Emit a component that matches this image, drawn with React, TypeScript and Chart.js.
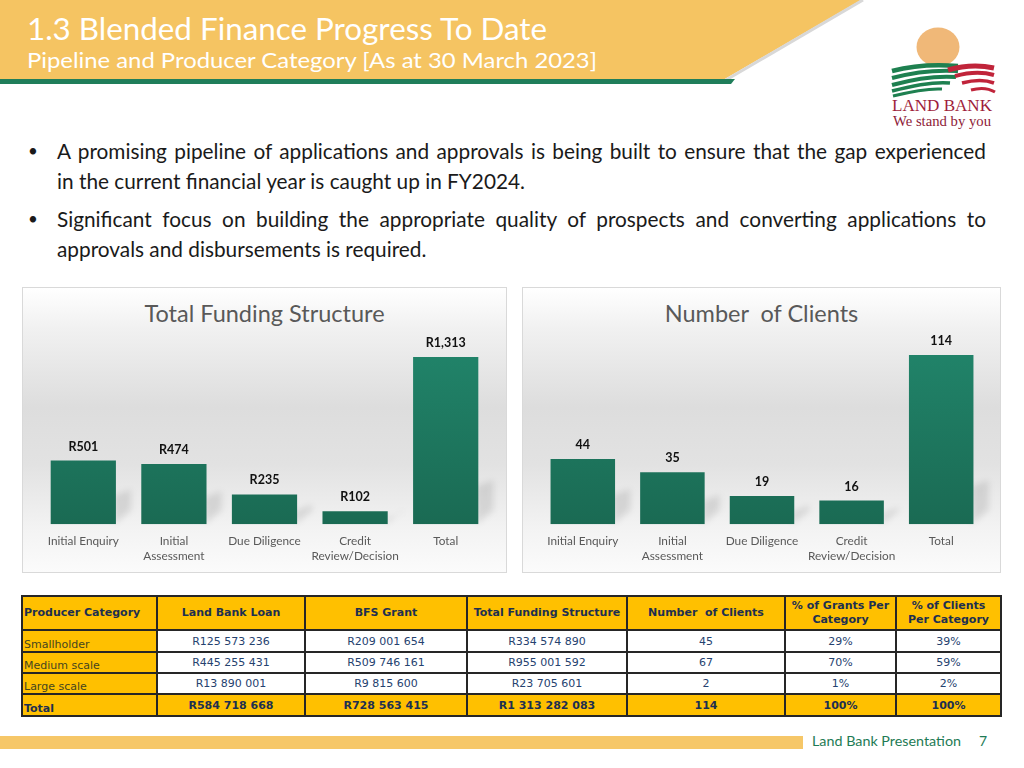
import React, { useEffect, useRef } from 'react';
import { Chart, registerables } from 'chart.js';

Chart.register(...registerables);

// ---------- data ----------
const stageLabels: string[][] = [
  ['Initial Enquiry'],
  ['Initial', 'Assessment'],
  ['Due Diligence'],
  ['Credit', 'Review/Decision'],
  ['Total'],
];
const fundingValues = [501, 474, 235, 102, 1313];
const clientValues = [44, 35, 19, 16, 114];
const fundingAxisMax = 1400;
const clientAxisMax = 120;

const tableHeaders: string[][] = [
  ['Producer Category'],
  ['Land Bank Loan'],
  ['BFS Grant'],
  ['Total Funding Structure'],
  ['Number  of Clients'],
  ['% of Grants Per', 'Category'],
  ['% of Clients', 'Per Category'],
];
const producerCategories = ['Smallholder', 'Medium scale', 'Large scale'];
const landBankLoan = ['R125 573 236', 'R445 255 431', 'R13 890 001'];
const bfsGrant = ['R209 001 654', 'R509 746 161', 'R9 815 600'];
const totalFunding = ['R334 574 890', 'R955 001 592', 'R23 705 601'];
const numberOfClients = ['45', '67', '2'];
const pctGrants = ['29%', '70%', '1%'];
const pctClients = ['39%', '59%', '2%'];
const totalRow = ['Total', 'R584 718 668', 'R728 563 415', 'R1 313 282 083', '114', '100%', '100%'];

// ---------- plugins ----------
const barShadowPlugin = {
  id: 'barShadow',
  beforeDatasetsDraw(chart: any) {
    const { ctx } = chart;
    const meta = chart.getDatasetMeta(0);
    ctx.save();
    ctx.filter = 'blur(3px)';
    ctx.fillStyle = 'rgba(0,0,0,0.10)';
    meta.data.forEach((bar: any) => {
      const right = bar.x + bar.width / 2;
      const bottom = bar.base;
      const h = bottom - bar.y;
      const s = Math.min(38, h * 0.45);
      ctx.beginPath();
      ctx.moveTo(right - 2, bottom);
      ctx.lineTo(right - 2, bottom - s);
      ctx.lineTo(right + 15, bottom - s - 6);
      ctx.lineTo(right + 15, bottom - 14);
      ctx.closePath();
      ctx.fill();
    });
    ctx.restore();
  },
};

const valueLabelPlugin = {
  id: 'valueLabels',
  afterDatasetsDraw(chart: any, _args: any, opts: any) {
    const { ctx } = chart;
    const meta = chart.getDatasetMeta(0);
    const texts: string[] = opts.texts || [];
    ctx.save();
    ctx.font = 'bold 12.5px Lato';
    ctx.fillStyle = '#111111';
    ctx.textAlign = 'center';
    ctx.textBaseline = 'middle';
    meta.data.forEach((bar: any, i: number) => {
      ctx.fillText(texts[i], bar.x, bar.y - 14);
    });
    ctx.restore();
  },
};

type BarBoxProps = {
  left: number;
  top: number;
  width: number;
  height: number;
  title: string;
  values: number[];
  axisMax: number;
  texts: string[];
  padLeft: number;
  padRight: number;
};

function BarBox(p: BarBoxProps) {
  const ref = useRef<HTMLCanvasElement | null>(null);
  useEffect(() => {
    if (!ref.current) return;
    const chart = new Chart(ref.current, {
      type: 'bar',
      data: {
        labels: stageLabels,
        datasets: [
          {
            data: p.values,
            backgroundColor: (c: any) => {
              const area = c.chart.chartArea;
              if (!area) return '#1E7A5E';
              const g = c.chart.ctx.createLinearGradient(0, area.top, 0, area.bottom);
              g.addColorStop(0, '#21846A');
              g.addColorStop(1, '#1A6A53');
              return g;
            },
            borderWidth: 0,
            barPercentage: 0.9,
            categoryPercentage: 0.8,
          },
        ],
      },
      options: {
        animation: false,
        responsive: false,
        devicePixelRatio: 1,
        layout: { padding: { top: 59, bottom: 0, left: p.padLeft, right: p.padRight } },
        plugins: {
          legend: { display: false },
          title: { display: false },
          tooltip: { enabled: false },
          valueLabels: { texts: p.texts },
        } as any,
        scales: {
          x: {
            grid: { display: false, drawTicks: false },
            border: { display: false },
            ticks: {
              padding: 9,
              color: '#595959',
              font: { family: 'Lato', size: 11.8, lineHeight: 1.3 },
              maxRotation: 0,
              autoSkip: false,
            },
          },
          y: { display: false, min: 0, max: p.axisMax },
        },
      },
      plugins: [barShadowPlugin, valueLabelPlugin],
    });
    return () => chart.destroy();
  }, []);

  return (
    <div
      style={{
        position: 'absolute',
        left: p.left,
        top: p.top,
        width: p.width,
        height: p.height,
        boxSizing: 'border-box',
        border: '1px solid #d9d9d9',
        background:
          'linear-gradient(180deg, #ffffff 0%, #f1f1f1 14%, #dddddd 42%, #e2e2e2 62%, #f3f3f3 85%, #fbfbfb 100%)',
      }}
    >
      <div
        style={{
          position: 'absolute',
          left: 0,
          top: 11,
          width: '100%',
          textAlign: 'center',
          fontFamily: 'Lato',
          fontSize: 23.5,
          color: '#595959',
          whiteSpace: 'pre',
        }}
      >
        {p.title}
      </div>
      <canvas
        ref={ref}
        width={p.width}
        height={p.height}
        style={{ position: 'absolute', left: -1, top: -1, width: p.width, height: p.height }}
      />
    </div>
  );
}

// ---------- table ----------
const colX = [22, 157, 305, 467, 627, 785, 896, 1001];
const rowY = [596, 630, 652, 673, 694, 716];

function DataTable() {
  const rows: string[][] = producerCategories.map((c, i) => [
    c,
    landBankLoan[i],
    bfsGrant[i],
    totalFunding[i],
    numberOfClients[i],
    pctGrants[i],
    pctClients[i],
  ]);
  const cells: React.ReactNode[] = [];
  const navy = '#1D2F50';
  const blue = '#25426F';
  const cellBox = (ci: number, ri: number) => ({
    position: 'absolute' as const,
    left: colX[ci] + 1 - colX[0],
    top: rowY[ri] + 1 - rowY[0],
    width: colX[ci + 1] - colX[ci] - 2,
    height: rowY[ri + 1] - rowY[ri] - 2,
    display: 'flex',
    boxSizing: 'border-box' as const,
  });
  tableHeaders.forEach((h, ci) => {
    cells.push(
      <div
        key={'h' + ci}
        style={{
          ...cellBox(ci, 0),
          background: '#FFC000',
          alignItems: 'center',
          justifyContent: 'center',
          paddingLeft: ci === 0 ? 1 : 0,
          fontWeight: 'bold',
          color: navy,
          fontSize: 11,
          lineHeight: '14px',
          whiteSpace: 'pre',
        }}
      >
        <div style={{ width: '100%', textAlign: ci === 0 ? 'left' : 'center' }}>
          {h.map((line, li) => (
            <div key={li}>{line}</div>
          ))}
        </div>
      </div>
    );
  });
  rows.forEach((r, ri) => {
    r.forEach((v, ci) => {
      const isLabel = ci === 0;
      cells.push(
        <div
          key={'r' + ri + '-' + ci}
          style={{
            ...cellBox(ci, ri + 1),
            background: isLabel ? '#FFC000' : '#ffffff',
            alignItems: isLabel ? 'flex-end' : 'center',
            justifyContent: isLabel ? 'flex-start' : 'center',
            paddingLeft: isLabel ? 1 : 0,
            color: isLabel ? '#46451F' : blue,
            fontSize: 11,
            lineHeight: '13px',
            whiteSpace: 'pre',
          }}
        >
          {v}
        </div>
      );
    });
  });
  totalRow.forEach((v, ci) => {
    cells.push(
      <div
        key={'t' + ci}
        style={{
          ...cellBox(ci, 4),
          background: '#FFC000',
          alignItems: ci === 0 ? 'flex-end' : 'center',
          justifyContent: ci === 0 ? 'flex-start' : 'center',
          paddingLeft: ci === 0 ? 1 : 0,
          fontWeight: 'bold',
          color: navy,
          fontSize: 11,
          lineHeight: '13px',
          whiteSpace: 'pre',
        }}
      >
        {v}
      </div>
    );
  });
  return (
    <div
      style={{
        position: 'absolute',
        left: colX[0] - 1,
        top: rowY[0] - 1,
        width: colX[7] - colX[0] + 2,
        height: rowY[5] - rowY[0] + 2,
        background: '#262626',
        fontFamily: '"DejaVu Sans", Verdana, sans-serif',
      }}
    >
      <div style={{ position: 'absolute', left: 1, top: 1 }}>{cells}</div>
    </div>
  );
}

// ---------- slide ----------
function Header() {
  return (
    <svg
      width={1024}
      height={135}
      style={{ position: 'absolute', left: 0, top: 0 }}
      viewBox="0 0 1024 135"
    >
      <polygon points="0,0 861,0 723,80 0,80" fill="#F5C462" />
      <line x1={863} y1={0} x2={726} y2={80} stroke="#d8d8d8" strokeWidth={3} />
      <polygon points="0,79 735,79 731,84 0,84" fill="#1F7E5A" />
      <text
        x={27}
        y={40}
        fontFamily="Lato"
        fontSize={31}
        fill="#ffffff"
        textLength={520}
        lengthAdjust="spacingAndGlyphs"
      >
        1.3 Blended Finance Progress To Date
      </text>
      <text
        x={27}
        y={68}
        fontFamily="Lato"
        fontSize={21}
        fill="#ffffff"
        textLength={570}
        lengthAdjust="spacingAndGlyphs"
      >
        Pipeline and Producer Category [As at 30 March 2023]
      </text>
      {/* logo */}
      <ellipse cx={938} cy={47} rx={21.5} ry={19.5} fill="#F0B878" />
      <g fill="none" stroke="#1E8050" strokeLinecap="butt">
        <path d="M892,71 Q922,63 958,66" strokeWidth={4.5} />
        <path d="M892,78 Q925,69 958,71" strokeWidth={4} />
        <path d="M892,85 Q928,75 956,77" strokeWidth={4} />
        <path d="M892,91 Q930,81 950,83" strokeWidth={3.5} />
        <path d="M893,96 Q925,88 942,89" strokeWidth={3} />
      </g>
      <g fill="none" stroke="#C0243A" strokeLinecap="butt">
        <path d="M948,70 Q972,63 994,68" strokeWidth={5} />
        <path d="M955,76 Q977,70 994,75" strokeWidth={4} />
        <path d="M962,83 Q981,78 994,83" strokeWidth={3.5} />
        <path d="M971,90 Q985,86 995,92" strokeWidth={3} />
      </g>
      <text
        x={892}
        y={111}
        fontFamily="Liberation Serif"
        fontSize={16}
        fill="#9E1D3B"
        textLength={100}
        lengthAdjust="spacingAndGlyphs"
      >
        LAND BANK
      </text>
      <text
        x={893}
        y={126}
        fontFamily="Liberation Serif"
        fontSize={15}
        fill="#8E1B38"
        textLength={98}
        lengthAdjust="spacingAndGlyphs"
      >
        We stand by you
      </text>
    </svg>
  );
}

function Bullets() {
  const fs = 20.8;
  const lineStyle: React.CSSProperties = {
    position: 'absolute',
    left: 57,
    width: 929,
    fontFamily: 'Lato',
    fontSize: fs,
    lineHeight: '30px',
    color: '#1a1a1a',
    whiteSpace: 'nowrap',
  };
  const just: React.CSSProperties = {
    ...lineStyle,
    whiteSpace: 'normal',
    textAlign: 'justify',
    textAlignLast: 'justify',
  };
  const bullet: React.CSSProperties = {
    position: 'absolute',
    left: 28,
    fontFamily: 'Lato',
    fontSize: 17,
    lineHeight: '30px',
    color: '#1a1a1a',
  };
  return (
    <>
      <div style={{ ...bullet, top: 136 }}>•</div>
      <div style={{ ...just, top: 136 }}>
        A promising pipeline of applications and approvals is being built to ensure that the gap experienced
      </div>
      <div style={{ ...lineStyle, top: 166 }}>in the current financial year is caught up in FY2024.</div>
      <div style={{ ...bullet, top: 204 }}>•</div>
      <div style={{ ...just, top: 204 }}>
        Significant focus on building the appropriate quality of prospects and converting applications to
      </div>
      <div style={{ ...lineStyle, top: 234 }}>approvals and disbursements is required.</div>
    </>
  );
}

function Footer() {
  return (
    <svg width={1024} height={30} style={{ position: 'absolute', left: 0, top: 730 }} viewBox="0 730 1024 30">
      <rect x={0} y={736} width={803} height={13} fill="#F6C768" />
      <text x={812} y={746} fontFamily="Lato" fontSize={14} fill="#1E7B55" textLength={149} lengthAdjust="spacingAndGlyphs">
        Land Bank Presentation
      </text>
      <text x={979} y={746} fontFamily="Lato" fontSize={14} fill="#1E7B55">
        7
      </text>
    </svg>
  );
}

export default function App() {
  return (
    <div
      style={{
        position: 'fixed',
        left: 0,
        top: 0,
        width: 1024,
        height: 768,
        background: '#ffffff',
        overflow: 'hidden',
        fontFamily: 'Lato',
      }}
    >
      <Header />
      <Bullets />
      <BarBox
        left={22}
        top={287}
        width={485}
        height={286}
        title="Total Funding Structure"
        values={fundingValues}
        axisMax={fundingAxisMax}
        texts={fundingValues.map((v) => 'R' + v.toLocaleString('en-US'))}
        padLeft={16}
        padRight={16}
      />
      <BarBox
        left={522}
        top={287}
        width={479}
        height={286}
        title="Number  of Clients"
        values={clientValues}
        axisMax={clientAxisMax}
        texts={clientValues.map((v) => String(v))}
        padLeft={16}
        padRight={15}
      />
      <DataTable />
      <Footer />
    </div>
  );
}
